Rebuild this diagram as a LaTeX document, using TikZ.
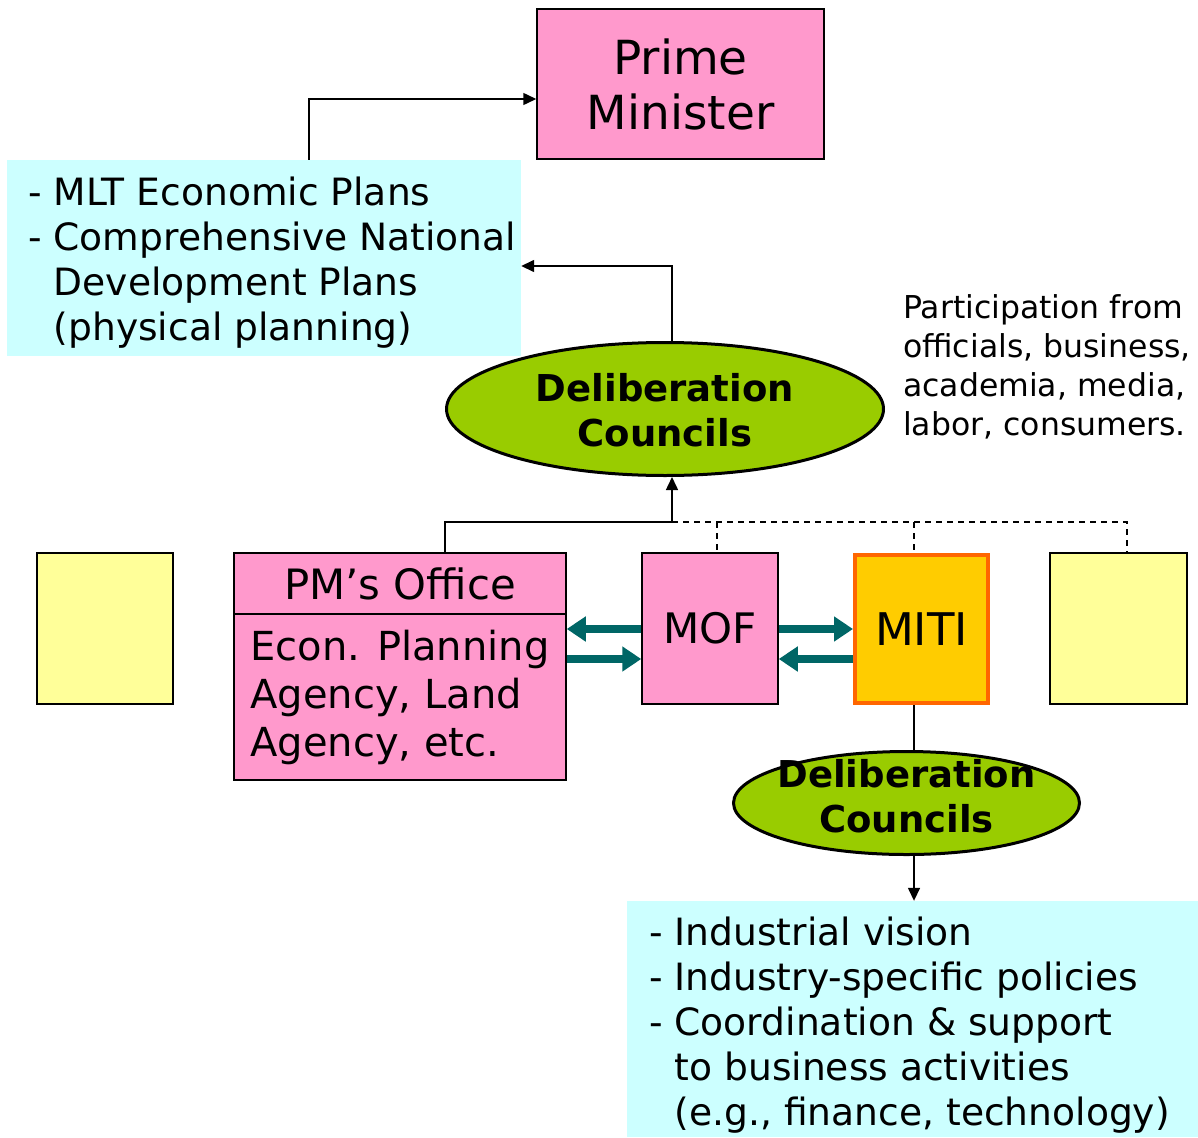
\documentclass[tikz,border=0pt]{standalone}
\usepackage{fontspec}
\setmainfont{DejaVu Sans}
\usetikzlibrary{arrows.meta,shapes.geometric}
\definecolor{pinkc}{HTML}{FF99CC}
\definecolor{cyanc}{HTML}{CCFFFF}
\definecolor{yellowc}{HTML}{FFFF99}
\definecolor{greenc}{HTML}{99CC00}
\definecolor{goldc}{HTML}{FFCC00}
\definecolor{orangec}{HTML}{FF6600}
\definecolor{tealc}{HTML}{006666}
\begin{document}
\begin{tikzpicture}[x=1pt,y=-1pt,
  boxed/.style={draw=black, line width=1.5pt, inner sep=0pt},
  cyanbox/.style={fill=cyanc, draw=none, inner sep=0pt},
  listtext/.style={font=\fontsize{37.6}{45}\selectfont, align=left, inner sep=0pt, anchor=west},
  midtext/.style={font=\fontsize{40}{48}\selectfont, align=left},
  council/.style={ellipse, draw=black, line width=3pt, fill=greenc, inner sep=0pt},
  counciltext/.style={font=\bfseries\fontsize{37}{45}\selectfont, align=center, inner sep=0pt},
  thin/.style={line width=1.5pt},
  arr/.style={thin, -{Triangle[length=13pt,width=12pt]}},
  dashline/.style={thin, dash pattern=on 6pt off 5pt},
  tealarr/.style={line width=8pt, draw=tealc, -{Triangle[length=19pt,width=24pt]}}
]
\useasboundingbox (0,0) rectangle (1198,1137);

% top boxes
\node[boxed, fill=pinkc, minimum width=287, minimum height=150,
  font=\fontsize{47}{55}\selectfont, align=center] (pm) at (680.5,84) {Prime\\Minister};
\node[cyanbox, minimum width=514, minimum height=196] (plansA) at (264,258) {};
\node[listtext] (plansAtext) at (28,262.5)
  {- MLT Economic Plans\\- Comprehensive National\\\phantom{- }Development Plans\\\phantom{- }(physical planning)};

% upper council
\node[council, minimum width=437, minimum height=133] (delib1) at (665,409) {};
\node[counciltext] (delib1text) at (665,410.5) {Deliberation\\Councils};
\node[font=\fontsize{31.5}{39}\selectfont, align=left, inner sep=0pt, anchor=west] (particip) at (903,367)
  {Participation from\\officials, business,\\academia, media,\\labor, consumers.};

% row of ministries
\node[boxed, fill=yellowc, minimum width=136, minimum height=151] (yleft) at (105,628.5) {};
\node[boxed, fill=pinkc, minimum width=332, minimum height=61, font=\fontsize{41.8}{48}\selectfont] (pmohead) at (400,583.5) {PM’s Office};
\node[boxed, fill=pinkc, minimum width=332, minimum height=166, midtext] (pmobody) at (400,697) {Econ. Planning\\Agency, Land\\Agency, etc.};
\node[boxed, fill=pinkc, minimum width=136, minimum height=151, font=\fontsize{42}{48}\selectfont] (mof) at (710,628.5) {MOF};
\node[draw=orangec, line width=4pt, fill=goldc, inner sep=0pt, minimum width=133, minimum height=148,
  font=\fontsize{45}{48}\selectfont] (miti) at (921.5,629) {MITI};
\node[boxed, fill=yellowc, minimum width=137, minimum height=151] (yright) at (1118.5,628.5) {};

% lower council and box
\node[council, minimum width=346, minimum height=103] (delib2) at (906.5,803) {};
\node[counciltext] (delib2text) at (906.5,796) {Deliberation\\Councils};
\node[cyanbox, minimum width=572, minimum height=236] (plansB) at (913,1019) {};
\node[listtext] (plansBtext) at (649,1025.5)
  {- Industrial vision\\- Industry-specific policies\\- Coordination \& support\\\phantom{- }to business activities\\\phantom{- }(e.g., finance, technology)};

% helper coordinates
\coordinate (J) at (672,522);
\coordinate (xpmo) at (445,0);
\coordinate (xmof) at (717,0);
\coordinate (xmiti) at (914,0);
\coordinate (xyr) at (1127,0);
\coordinate (ypmarrow) at (0,99);
\coordinate (yplanarrow) at (0,266);
\coordinate (xplanup) at (309,0);
\coordinate (ytop) at (0,629);
\coordinate (ybot) at (0,659);

% black connectors
\draw[arr] (plansA.north -| xplanup) |- (pm.west |- ypmarrow);
\draw[arr] (delib1.north -| J) |- (plansA.east |- yplanarrow);
\draw[thin] (pmohead.north -| xpmo) |- (J);
\draw[arr] (J) -- (delib1.south -| J);
\draw[dashline] (J) -| (yright.north -| xyr);
\draw[dashline] (J -| xmof) -- (mof.north -| xmof);
\draw[dashline] (J -| xmiti) -- (miti.north -| xmiti);
\draw[thin] (miti.south -| xmiti) -- (delib2.north -| xmiti);
\draw[arr] (delib2.south -| xmiti) -- (plansB.north -| xmiti);

% teal arrows
\draw[tealarr] (mof.west |- ytop) -- (pmobody.east |- ytop);
\draw[tealarr] (pmobody.east |- ybot) -- (mof.west |- ybot);
\draw[tealarr] (mof.east |- ytop) -- (miti.west |- ytop);
\draw[tealarr] (miti.west |- ybot) -- (mof.east |- ybot);
\end{tikzpicture}
\end{document}
